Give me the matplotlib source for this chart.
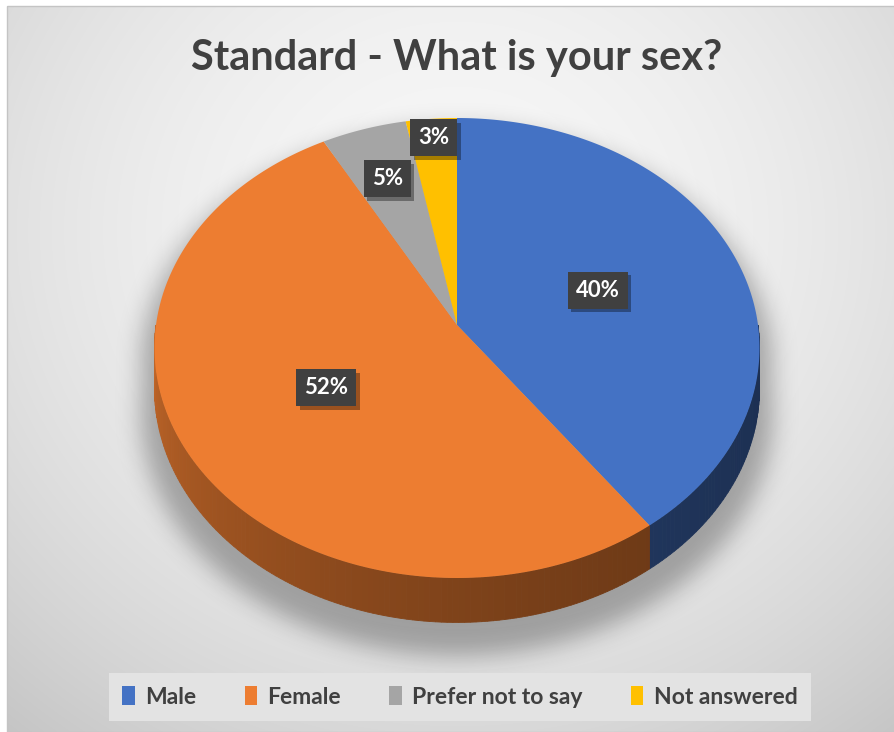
import numpy as np
import matplotlib.pyplot as plt
import matplotlib.patheffects as pe
from matplotlib.patches import Polygon, Patch, Rectangle
from matplotlib.path import Path

plt.rcParams['font.family'] = ['Lato', 'DejaVu Sans']

title = "Standard - What is your sex?"
categories = ["Male", "Female", "Prefer not to say", "Not answered"]
shares = [40, 52, 5, 3]
colors = ["#4472C4", "#ED7D31", "#A5A5A5", "#FFC000"]
label_radius = [0.5, 0.5, 0.73, 0.9]

W, H = 895, 732
CX, CY = 457, 325        # pie centre on screen
RX, RZ = 301, 227.7      # horizontal radius / depth radius
PERSP = 0.1              # perspective strength
DEPTH = 40               # thickness of the pie
TXT = "#404040"


def project(r, theta, drop=0.0):
    # theta in degrees, clockwise from 12 o'clock
    t = np.radians(theta)
    X = r * np.sin(t)
    Z = -r * np.cos(t)
    w = 1.0 / (1.0 - PERSP * Z)
    return CX + RX * X * w, CY + RZ * Z * w + drop * w


def shade(c, f):
    rgb = np.array(plt.matplotlib.colors.to_rgb(c))
    return tuple(np.clip(rgb * f, 0, 1))


def blur(a, s):
    k = np.exp(-0.5 * (np.arange(-3 * s, 3 * s + 1) / s) ** 2)
    k /= k.sum()
    a = np.apply_along_axis(lambda m: np.convolve(m, k, mode='same'), 0, a)
    a = np.apply_along_axis(lambda m: np.convolve(m, k, mode='same'), 1, a)
    return a


fig = plt.figure(figsize=(W / 100, H / 100), dpi=100, facecolor='white')
ax = fig.add_axes([0, 0, 1, 1])
ax.set_xlim(0, W)
ax.set_ylim(H, 0)
ax.axis('off')

# background radial gradient
yy, xx = np.mgrid[0:H, 0:W]
d = np.sqrt(((xx - 457) / 560.0) ** 2 + ((yy - 230) / 520.0) ** 2)
g = np.clip(247 - 32.8 * d ** 1.86, 0, 255) / 255.0
bg = np.dstack([g, g, g])
ax.imshow(bg[6:, 7:], extent=(7, W, H, 6), origin='upper', zorder=0)
ax.add_patch(Rectangle((7, 6), W - 7, H - 6, fill=False, ec='#c4c4c4', lw=1, zorder=1))

# soft drop shadow of the whole pie
back = np.linspace(270, 450, 200)
front = np.linspace(90, 270, 200)
ox, oy = project(1, back)
fx, fy = project(1, front, DEPTH)
sx = np.concatenate([ox, fx])
sy = np.concatenate([oy, fy])
sx = CX + (sx - CX) * 1.045
sy = CY + 20 + (sy - CY) * 1.045
mask = Path(np.column_stack([sx, sy])).contains_points(
    np.column_stack([xx.ravel() + 0.5, yy.ravel() + 0.5])).reshape(H, W).astype(float)
sh = blur(mask, 12)
shadow = np.zeros((H, W, 4))
shadow[..., 3] = sh * 0.3
ax.imshow(shadow, extent=(0, W, H, 0), origin='upper', zorder=2)

# slice angles from the data
bounds = np.concatenate([[0], np.cumsum(shares)]) / np.sum(shares) * 360.0

# side walls (visible front half only)
for i, c in enumerate(colors):
    a0, a1 = max(bounds[i], 90), min(bounds[i + 1], 270)
    if a1 <= a0:
        continue
    steps = np.linspace(a0, a1, int(a1 - a0) + 2)
    for s0, s1 in zip(steps[:-1], steps[1:]):
        m = 0.5 * (s0 + s1)
        f = 0.42 + 0.4 * ((m - 90) / 180.0) ** 1.8
        tx0, ty0 = project(1, s0)
        tx1, ty1 = project(1, s1)
        bx0, by0 = project(1, s0, DEPTH)
        bx1, by1 = project(1, s1, DEPTH)
        col = shade(c, f)
        ax.add_patch(Polygon([(tx0, ty0), (tx1, ty1), (bx1, by1), (bx0, by0)],
                             closed=True, fc=col, ec=col, lw=0.6, zorder=3))

# top face
for i, c in enumerate(colors):
    arc = np.linspace(bounds[i], bounds[i + 1], max(int(bounds[i + 1] - bounds[i]) * 2, 4))
    px, py = project(1, arc)
    verts = [(CX, CY)] + list(zip(px, py))
    ax.add_patch(Polygon(verts, closed=True, fc=c, ec='none', zorder=4))

# data labels
for i, v in enumerate(shares):
    mid = 0.5 * (bounds[i] + bounds[i + 1])
    lx, ly = project(label_radius[i], mid)
    t = ax.text(lx, ly, f"{v}%", ha='center', va='center', color='white',
                fontsize=16, fontweight='bold', zorder=6,
                bbox=dict(boxstyle='square,pad=0.36', fc='#404040', ec='none'))
    t.get_bbox_patch().set_path_effects([
        pe.SimplePatchShadow(offset=(2.5, -2.5), shadow_rgbFace='black', alpha=0.35),
        pe.Normal()])

fig.text(457 / W, 1 - 58 / H, title, ha='center', va='center', fontsize=30,
         fontweight='bold', color=TXT)

handles = [Patch(fc=c, ec='none') for c in colors]
fig.legend(handles, categories, loc='center', bbox_to_anchor=(460 / W, 1 - 697 / H),
           ncol=4, frameon=True, fancybox=False, facecolor='#e3e3e3', edgecolor='none',
           framealpha=1, prop=dict(weight='bold', size=16.5), labelcolor=TXT,
           handlelength=0.55, handleheight=0.85, handletextpad=0.45,
           columnspacing=2.1, borderpad=0.6)

fig.savefig('out.png', dpi=100, facecolor='white')
